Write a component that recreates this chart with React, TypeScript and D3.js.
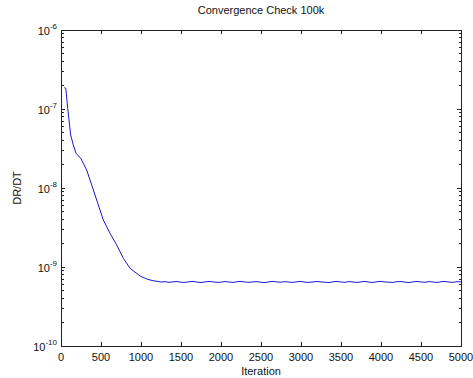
import React from "react";
import * as d3 from "d3";

const title = "Convergence Check 100k";
const xLabel = "Iteration";
const yLabel = "DR/DT";
const xTicks = [0, 500, 1000, 1500, 2000, 2500, 3000, 3500, 4000, 4500, 5000];
const yExponents = [-10, -9, -8, -7, -6];

const headIterations = [40, 60, 84, 100, 121, 154, 188, 246, 321, 384, 446, 529, 613, 696, 779, 863, 988, 1071, 1150, 1200];
const headValues = [1.86e-7, 1.83e-7, 1.02e-7, 7.26e-8, 4.69e-8, 3.5e-8, 2.75e-8, 2.38e-8, 1.69e-8, 1.09e-8, 7.05e-9, 3.94e-9, 2.67e-9, 1.9e-9, 1.29e-9, 9.64e-10, 7.69e-10, 7.05e-10, 6.7e-10, 6.6e-10];

// plateau values, in units of 1e-10, sampled every 50 iterations from 1250 to 5000
const plateauValues = [
  6.45, 6.52, 6.4, 6.48, 6.55, 6.42, 6.38, 6.5, 6.58, 6.44, 6.36, 6.47, 6.56, 6.49, 6.39, 6.43, 6.54, 6.46, 6.37, 6.51,
  6.57, 6.45, 6.4, 6.48, 6.53, 6.41, 6.35, 6.49, 6.58, 6.46, 6.42, 6.52, 6.44, 6.38, 6.5, 6.56, 6.43, 6.39, 6.47, 6.55,
  6.48, 6.41, 6.36, 6.5, 6.57, 6.45, 6.4, 6.53, 6.46, 6.38, 6.49, 6.56, 6.44, 6.37, 6.51, 6.58, 6.47, 6.42, 6.39, 6.52,
  6.55, 6.43, 6.36, 6.48, 6.57, 6.46, 6.4, 6.53, 6.45, 6.38, 6.5, 6.56, 6.44, 6.39, 6.52, 6.47,
];

const W = 473, H = 378;
const L = 61, R = 461, T = 30, B = 346;
const FONT = "Arial, 'Liberation Sans', Helvetica, sans-serif";

export default function App() {
  const x = d3.scaleLinear().domain([0, 5000]).range([L, R]);
  const y = d3.scaleLog().domain([1e-10, 1e-6]).range([B, T]);

  const plateauIter = d3.range(1250, 5001, 50);
  const data: [number, number][] = [
    ...headIterations.map((it, i) => [it, headValues[i]] as [number, number]),
    ...plateauIter.map((it, i) => [it, plateauValues[i] * 1e-10] as [number, number]),
  ];
  const line = d3.line<[number, number]>().x((d) => x(d[0])).y((d) => y(d[1]));

  const minor: number[] = [];
  for (let e = -10; e < -6; e++) for (let m = 2; m <= 9; m++) minor.push(m * Math.pow(10, e));

  const axisColor = "#222";
  return (
    <svg width={W} height={H} style={{ position: "absolute", left: 0, top: 0, background: "#fff" }}>
      <rect x={0} y={0} width={W} height={H} fill="#fff" />
      <rect x={L} y={T} width={R - L} height={B - T} fill="#fff" stroke={axisColor} strokeWidth={1} shapeRendering="crispEdges" />
      <g stroke={axisColor} strokeWidth={1} shapeRendering="crispEdges">
        {xTicks.map((t) => (
          <g key={"xt" + t}>
            <line x1={x(t)} x2={x(t)} y1={B} y2={B - 4} />
            <line x1={x(t)} x2={x(t)} y1={T} y2={T + 4} />
          </g>
        ))}
        {yExponents.map((e) => (
          <g key={"ye" + e}>
            <line x1={L} x2={L + 4} y1={y(Math.pow(10, e))} y2={y(Math.pow(10, e))} />
            <line x1={R} x2={R - 4} y1={y(Math.pow(10, e))} y2={y(Math.pow(10, e))} />
          </g>
        ))}
        {minor.map((v, i) => (
          <g key={"mn" + i}>
            <line x1={L} x2={L + 2.5} y1={y(v)} y2={y(v)} />
            <line x1={R} x2={R - 2.5} y1={y(v)} y2={y(v)} />
          </g>
        ))}
      </g>
      <path d={line(data) || ""} fill="none" stroke="#1a1acc" strokeWidth={1} />
      <g fontFamily={FONT} fill="#111">
        {xTicks.map((t) => (
          <text key={"xl" + t} x={x(t)} y={361} fontSize={11} textAnchor="middle">{t}</text>
        ))}
        {yExponents.map((e) => (
          <text key={"yl" + e} x={L - 4} y={y(Math.pow(10, e)) + 5} fontSize={11} textAnchor="end">
            10<tspan fontSize={8} dy={-6}>{e}</tspan>
          </text>
        ))}
        <text x={(L + R) / 2} y={14} fontSize={11} textAnchor="middle">{title}</text>
        <text x={(L + R) / 2} y={375} fontSize={11} textAnchor="middle">{xLabel}</text>
        <text transform={`translate(21,${(T + B) / 2}) rotate(-90)`} fontSize={11} textAnchor="middle">{yLabel}</text>
      </g>
    </svg>
  );
}
